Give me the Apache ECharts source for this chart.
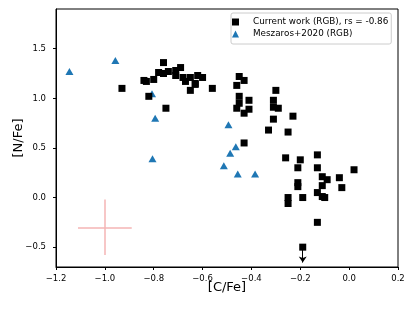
<!DOCTYPE html>
<html>
<head>
<meta charset="utf-8">
<script src="https://cdn.jsdelivr.net/npm/echarts@6/dist/echarts.min.js"></script>
<style>
html,body{margin:0;padding:0;background:#fff;}
#chart{width:415px;height:311px;}
</style>
</head>
<body>
<div id="chart"></div>
<script>
// ---- Data ----
const seriesNames = ['Current work (RGB), rs = -0.86', 'Meszaros+2020 (RGB)'];

const currentCFe = [-0.93, -0.76, -0.69, -0.78, -0.76, -0.74, -0.71, -0.71, -0.84, -0.83,
  -0.80, -0.68, -0.65, -0.67, -0.62, -0.60, -0.63, -0.63, -0.56, -0.65,
  -0.82, -0.75, -0.45, -0.43, -0.46, -0.30, -0.45, -0.41, -0.31, -0.45,
  -0.46, -0.41, -0.43, -0.31, -0.29, -0.31, -0.23, -0.33, -0.25, -0.43,
  -0.26, -0.20, -0.13, -0.21, -0.13, 0.02, -0.11, -0.09, -0.04, -0.21,
  -0.21, -0.11, -0.03, -0.13, -0.11, -0.10, -0.25, -0.25, -0.19, -0.13];
const currentNFe = [1.10, 1.36, 1.31, 1.26, 1.25, 1.27, 1.28, 1.23, 1.18, 1.17,
  1.19, 1.21, 1.21, 1.17, 1.23, 1.21, 1.15, 1.14, 1.10, 1.08,
  1.02, 0.90, 1.22, 1.18, 1.13, 1.08, 1.02, 0.98, 0.98, 0.95,
  0.90, 0.89, 0.85, 0.91, 0.90, 0.79, 0.82, 0.68, 0.66, 0.55,
  0.40, 0.38, 0.43, 0.30, 0.30, 0.28, 0.21, 0.18, 0.20, 0.15,
  0.11, 0.12, 0.10, 0.05, 0.01, 0.00, 0.00, -0.06, 0.00, -0.25];

// upper limits (arrow down)
const upperCFe = [-0.19];
const upperNFe = [-0.50];
const upperArrowLen = 0.155;

const meszarosCFe = [-1.145, -0.957, -0.807, -0.794, -0.805, -0.494, -0.464, -0.487, -0.513, -0.456, -0.385];
const meszarosNFe = [1.27, 1.38, 1.047, 0.80, 0.39, 0.733, 0.513, 0.446, 0.321, 0.237, 0.237];

// typical error bar
const errCFe = [-1.0];
const errNFe = [-0.30];
const errDx = 0.11;
const errDy = 0.28;

const xTicks = [-1.2, -1.0, -0.8, -0.6, -0.4, -0.2, 0.0, 0.2];
const yTicks = [-0.5, 0.0, 0.5, 1.0, 1.5];

// ---- Build ----
const FONT = 'DejaVu Sans';
function fmt(v) {
  if (Math.abs(v) < 1e-9) return '0.0';
  const s = v.toFixed(1);
  return s.replace('-', '\u2212');
}
const currentData = currentCFe.map((x, i) => [x, currentNFe[i]]);
const upperData = upperCFe.map((x, i) => [x, upperNFe[i]]);
const meszarosData = meszarosCFe.map((x, i) => [x, meszarosNFe[i]]);

const arrowLines = upperCFe.map((x, i) => [
  { coord: [x, upperNFe[i]] },
  { coord: [x, upperNFe[i] - upperArrowLen] }
]);
const errLines = [];
errCFe.forEach((x, i) => {
  errLines.push([{ coord: [x - errDx, errNFe[i]] }, { coord: [x + errDx, errNFe[i]] }]);
  errLines.push([{ coord: [x, errNFe[i] - errDy] }, { coord: [x, errNFe[i] + errDy] }]);
});

const chart = echarts.init(document.getElementById('chart'), null, { renderer: 'canvas' });
chart.setOption({
  animation: false,
  backgroundColor: '#ffffff',
  textStyle: { fontFamily: FONT },
  grid: {
    left: 56, right: 17, top: 9, bottom: 44,
    outerBoundsMode: 'none', containLabel: false,
    show: true, borderColor: '#000', borderWidth: 1, backgroundColor: 'transparent'
  },
  legend: {
    orient: 'vertical',
    left: 231, top: 13,
    padding: [3, 3, 4, 1],
    itemGap: 0,
    itemWidth: 7, itemHeight: 7,
    borderColor: '#cccccc', borderWidth: 1, borderRadius: 2,
    backgroundColor: 'rgba(255,255,255,0.8)',
    data: [
      { name: seriesNames[0], icon: 'rect' },
      { name: seriesNames[1], icon: 'triangle' }
    ],
    textStyle: {
      fontFamily: FONT, fontSize: 8.8, color: '#000', lineHeight: 12,
      padding: [0, 0, 0, 9]
    }
  },
  xAxis: {
    type: 'value',
    min: -1.2, max: 0.2, interval: 0.2,
    name: '[C/Fe]', nameLocation: 'middle', nameGap: 14, nameMoveOverlap: false,
    nameTextStyle: { fontFamily: FONT, fontSize: 13, color: '#000' },
    axisLine: { show: true, onZero: false, lineStyle: { color: '#000', width: 1 } },
    axisTick: { show: true, length: 3, lineStyle: { color: '#000' } },
    axisLabel: { fontFamily: FONT, fontSize: 8.5, color: '#000', margin: 7, formatter: fmt,
      showMinLabel: true, showMaxLabel: true },
    splitLine: { show: false }
  },
  yAxis: {
    type: 'value',
    min: -0.7, max: 1.9,
    name: '[N/Fe]', nameLocation: 'middle', nameGap: 31, nameMoveOverlap: false,
    nameTextStyle: { fontFamily: FONT, fontSize: 13, color: '#000' },
    axisLine: { show: true, onZero: false, lineStyle: { color: '#000', width: 1 } },
    axisTick: { show: true, length: 3, lineStyle: { color: '#000' }, customValues: yTicks },
    axisLabel: { fontFamily: FONT, fontSize: 8.5, color: '#000', margin: 10, formatter: fmt,
      customValues: yTicks },
    splitLine: { show: false }
  },
  series: [
    {
      name: 'errorbar',
      type: 'scatter',
      data: [],
      silent: true,
      markLine: {
        silent: true, symbol: ['none', 'none'], animation: false,
        label: { show: false },
        lineStyle: { color: '#f4b4b4', width: 1.5, type: 'solid' },
        emphasis: { disabled: true },
        data: errLines
      }
    },
    {
      name: seriesNames[1],
      type: 'scatter',
      symbol: 'triangle',
      symbolSize: [8, 7],
      itemStyle: { color: '#1f77b4', opacity: 1 },
      data: meszarosData
    },
    {
      name: seriesNames[0],
      type: 'scatter',
      symbol: 'rect',
      symbolSize: 7,
      itemStyle: { color: '#000', opacity: 1 },
      data: currentData
    },
    {
      name: seriesNames[0],
      type: 'scatter',
      symbol: 'rect',
      symbolSize: 7,
      itemStyle: { color: '#000', opacity: 1 },
      data: upperData,
      markLine: {
        silent: true, symbol: ['none', 'arrow'], symbolSize: 6, animation: false,
        label: { show: false },
        itemStyle: { color: '#000' },
        lineStyle: { color: '#000', width: 1, type: 'solid', opacity: 1 },
        emphasis: { disabled: true },
        data: arrowLines
      }
    }
  ]
});
</script>
</body>
</html>
